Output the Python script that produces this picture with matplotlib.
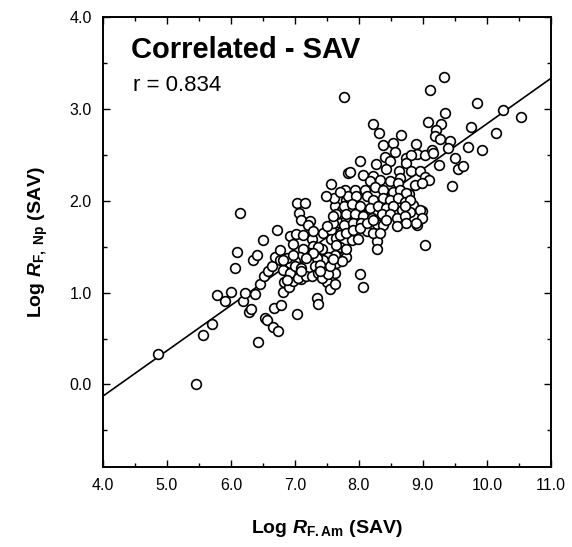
import numpy as np
import matplotlib
matplotlib.use('Agg')
import matplotlib.pyplot as plt
from matplotlib.ticker import MultipleLocator, FormatStrFormatter

plt.rcParams['font.family'] = ['Liberation Sans', 'DejaVu Sans']
plt.rcParams['mathtext.fontset'] = 'custom'
plt.rcParams['mathtext.rm'] = 'Liberation Sans:bold'
plt.rcParams['mathtext.bf'] = 'Liberation Sans:bold'
plt.rcParams['mathtext.it'] = 'Liberation Sans:italic:bold'

# Log R_F.Am (SAV) vs Log R_F,Np (SAV)
log_rf_am = [
    4.86, 5.45, 5.57, 5.71, 5.79, 5.90, 6.00, 6.07, 6.10, 6.14,
    6.19, 6.22, 6.28, 6.32, 6.38, 6.43, 6.35, 6.41, 6.46, 6.52,
    6.54, 6.57, 6.65, 6.74, 6.68, 6.79, 6.58, 6.64, 6.69, 6.81,
    6.83, 6.90, 6.97, 7.04, 7.10, 7.34, 7.36, 7.50, 7.55, 7.63,
    7.78, 7.62, 8.02, 8.07, 9.04, 6.50, 6.72, 7.03, 7.16, 7.07,
    7.09, 7.23, 7.21, 6.93, 6.97, 7.02, 7.13, 7.26, 7.29, 7.42,
    7.44, 7.56, 7.57, 7.65, 7.70, 7.62, 7.73, 7.65, 7.70, 7.80,
    7.80, 7.61, 7.78, 7.83, 7.56, 7.83, 7.48, 7.70, 7.70, 7.80,
    7.62, 7.52, 7.44, 7.34, 7.23, 7.13, 7.08, 7.00, 6.92, 6.87,
    6.77, 6.77, 6.82, 6.92, 7.00, 7.10, 7.05, 7.18, 6.87, 7.31,
    7.39, 7.26, 7.36, 7.42, 7.52, 7.65, 7.73, 8.22, 8.32, 8.66,
    9.08, 9.28, 9.35, 9.20, 9.19, 9.27, 9.42, 9.40, 10.26, 10.53,
    10.14, 9.75, 9.71, 9.93, 9.50, 9.55, 9.63, 9.45, 9.25, 8.91,
    8.99, 8.84, 8.79, 9.11, 9.84, 9.33, 7.77, 8.89, 8.91, 9.03,
    9.14, 9.16, 8.38, 8.53, 8.56, 8.41, 8.02, 8.27, 8.48, 8.74,
    8.82, 8.73, 7.86, 8.06, 8.22, 8.43, 8.63, 8.65, 8.82, 8.95,
    9.03, 9.10, 8.17, 8.33, 8.48, 8.61, 7.94, 8.09, 8.25, 8.38,
    8.53, 8.65, 8.74, 8.88, 8.98, 7.96, 8.12, 8.22, 8.38, 8.48,
    8.61, 8.72, 8.80, 7.76, 7.89, 8.02, 8.17, 8.30, 8.43, 8.54,
    8.67, 8.80, 8.95, 8.98, 7.80, 7.94, 8.07, 8.20, 8.36, 8.48,
    8.59, 8.72, 8.74, 8.90, 7.76, 7.91, 8.04, 8.17, 8.28, 8.38,
    8.43, 8.59, 8.28, 8.28, 7.80, 7.89, 7.99, 8.12, 8.22, 8.33,
    7.65, 7.80, 7.91, 8.02, 8.12, 8.22, 7.36, 7.29, 7.18, 7.55,
    7.29, 7.60, 7.50, 7.60, 7.10, 7.60, 7.39, 6.82, 6.97, 8.72,
]
log_rf_np = [
    0.33, 0.01, 0.54, 0.66, 0.97, 0.91, 1.01, 1.27, 1.44, 1.87,
    0.91, 0.99, 0.79, 0.82, 0.98, 0.46, 1.36, 1.41, 1.09, 1.18,
    0.72, 0.70, 0.62, 0.58, 0.83, 0.87, 1.23, 1.29, 1.39, 1.01,
    1.12, 1.06, 1.13, 0.77, 1.15, 0.94, 0.88, 1.12, 1.04, 1.21,
    1.41, 1.09, 1.20, 1.06, 1.52, 1.57, 1.68, 1.97, 1.98, 1.87,
    1.79, 1.78, 1.74, 1.62, 1.53, 1.64, 1.63, 1.58, 1.51, 1.47,
    1.65, 1.68, 1.58, 1.59, 1.63, 1.94, 1.90, 1.86, 1.76, 2.01,
    1.79, 2.03, 2.12, 2.05, 2.18, 2.30, 2.05, 2.09, 1.50, 1.39,
    1.41, 1.39, 1.36, 1.38, 1.43, 1.47, 1.39, 1.34, 1.32, 1.38,
    1.46, 1.36, 1.25, 1.21, 1.29, 1.27, 1.16, 1.18, 1.14, 1.29,
    1.30, 1.18, 1.21, 1.16, 1.20, 1.32, 1.34, 2.83, 2.74, 2.71,
    2.86, 2.84, 2.95, 2.77, 2.70, 2.67, 2.65, 2.57, 2.99, 2.91,
    2.74, 2.80, 2.58, 2.55, 2.46, 2.34, 2.38, 2.16, 2.39, 1.74,
    1.89, 1.95, 2.07, 3.20, 3.06, 3.35, 3.13, 2.62, 2.51, 2.50,
    2.55, 2.52, 2.61, 2.63, 2.53, 2.48, 2.43, 2.40, 2.43, 2.46,
    2.50, 2.41, 2.31, 2.28, 2.27, 2.34, 2.32, 2.25, 2.32, 2.32,
    2.26, 2.23, 2.21, 2.23, 2.21, 2.19, 2.12, 2.12, 2.15, 2.12,
    2.10, 2.12, 2.08, 2.17, 2.19, 2.05, 2.05, 2.01, 2.03, 2.01,
    2.03, 1.99, 2.01, 1.94, 1.96, 1.94, 1.92, 1.94, 1.92, 1.94,
    1.90, 1.88, 1.90, 1.81, 1.85, 1.85, 1.83, 1.81, 1.85, 1.85,
    1.81, 1.83, 1.76, 1.76, 1.74, 1.76, 1.76, 1.72, 1.75, 1.74,
    1.79, 1.72, 1.56, 1.47, 1.47, 1.57, 1.58, 1.67, 1.65, 1.65,
    1.52, 1.65, 1.68, 1.70, 1.76, 1.79, 1.50, 1.43, 1.38, 1.29,
    1.67, 1.76, 1.72, 1.83, 1.23, 1.37, 1.23, 1.36, 1.41, 1.94,
]

# regression line
line_intercept = -2.103
line_slope = 0.494
r_value = 0.834

fig = plt.figure(figsize=(5.72, 5.47), dpi=100)
ax = fig.add_axes([0.180, 0.146, 0.783, 0.823])

xs = np.array([4.0, 11.0])
ax.plot(xs, line_intercept + line_slope * xs, color='black', lw=1.2, zorder=1)
ax.plot(log_rf_am, log_rf_np, 'o', ms=7, mfc='white', mec='black', mew=1.2,
        linestyle='none', zorder=2)

ax.set_xlim(4.0, 11.0)
ax.set_ylim(-0.9, 4.0)
ax.xaxis.set_major_locator(MultipleLocator(1.0))
ax.xaxis.set_minor_locator(MultipleLocator(0.5))
ax.yaxis.set_major_locator(MultipleLocator(1.0))
ax.yaxis.set_minor_locator(MultipleLocator(0.5))
ax.xaxis.set_major_formatter(FormatStrFormatter('%.1f'))
ax.yaxis.set_major_formatter(FormatStrFormatter('%.1f'))
ax.tick_params(which='both', direction='in', top=True, right=True, width=1.0)
ax.tick_params(which='major', length=5, labelsize=11.5, pad=8)
ax.tick_params(which='minor', length=3)
for s in ax.spines.values():
    s.set_linewidth(1.4)

# annotations in the upper-left corner
ax.text(0.063, 0.957, 'Correlated - SAV', transform=ax.transAxes,
        fontsize=21, fontweight='bold', va='top', ha='left')
ax.text(0.066, 0.87, f'r = {r_value}', transform=ax.transAxes,
        fontsize=16, va='top', ha='left')

ax.set_xlabel(r'Log $R_{\mathrm{F.Am}}$ (SAV)', fontsize=14, fontweight='bold', labelpad=18)
ax.set_ylabel(r'Log $R_{\mathrm{F,\ Np}}$ (SAV)', fontsize=14, fontweight='bold', labelpad=14)

fig.savefig('out.png', dpi=100)
